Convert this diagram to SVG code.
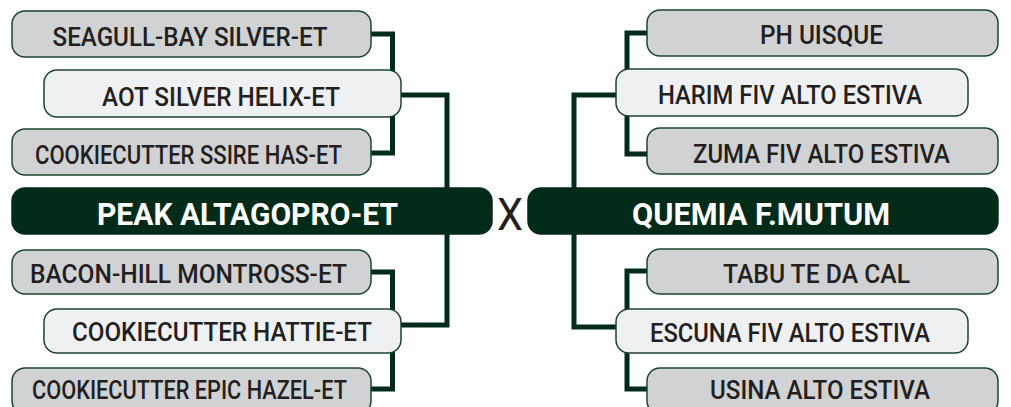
<svg xmlns="http://www.w3.org/2000/svg" width="1011" height="407" viewBox="0 0 1011 407">
<style>
.outer{fill:#d1d2d4;stroke:#1d4433;stroke-width:1.5}
.mid{fill:#eff0f2;stroke:#1d4433;stroke-width:1.5}
.main{fill:#032b1a;stroke:#032b1a;stroke-width:1.5}
.t{font-family:Roboto,"Liberation Sans",sans-serif;font-size:26px;font-weight:500;fill:#231f20;text-anchor:middle}
.tm{font-family:Roboto,"Liberation Sans",sans-serif;font-size:32px;font-weight:700;fill:#ffffff;text-anchor:middle}
.conn{fill:none;stroke:#032b1a;stroke-width:5;stroke-linejoin:miter}
</style>
<rect width="1011" height="407" fill="#ffffff"/>
<g id="connectors">
<path class="conn" d="M371,34 H392.5 V153 H371"/>
<path class="conn" d="M401,95 H447 V325 H401"/>
<path class="conn" d="M371,272 H392.5 V389 H371"/>
<path class="conn" d="M647,33 H627 V154 H647"/>
<path class="conn" d="M616,95 H574 V327 H616"/>
<path class="conn" d="M647,271 H627 V389 H647"/>
</g>
<g id="seagull"><rect class="outer" x="12" y="11" width="359" height="46" rx="13"/><text class="t" x="190" y="46" textLength="275" lengthAdjust="spacingAndGlyphs">SEAGULL-BAY SILVER-ET</text></g>
<g id="aot"><rect class="mid" x="44" y="70" width="357" height="47" rx="13"/><text class="t" x="221" y="106" textLength="238" lengthAdjust="spacingAndGlyphs">AOT SILVER HELIX-ET</text></g>
<g id="ssire"><rect class="outer" x="12" y="129" width="359" height="46" rx="13"/><text class="t" x="188.5" y="164" textLength="307" lengthAdjust="spacingAndGlyphs">COOKIECUTTER SSIRE HAS-ET</text></g>
<g id="peak"><rect class="main" x="12" y="188" width="480" height="46" rx="13"/><text class="tm" x="247.5" y="225" textLength="301" lengthAdjust="spacingAndGlyphs">PEAK ALTAGOPRO-ET</text></g>
<g id="bacon"><rect class="outer" x="12" y="250" width="359" height="44" rx="13"/><text class="t" x="188.5" y="283" textLength="317" lengthAdjust="spacingAndGlyphs">BACON-HILL MONTROSS-ET</text></g>
<g id="hattie"><rect class="mid" x="44" y="309" width="357" height="44" rx="13"/><text class="t" x="222" y="341" textLength="300" lengthAdjust="spacingAndGlyphs">COOKIECUTTER HATTIE-ET</text></g>
<g id="epic"><rect class="outer" x="12" y="368" width="359" height="46" rx="13"/><text class="t" x="189.5" y="399" textLength="315" lengthAdjust="spacingAndGlyphs">COOKIECUTTER EPIC HAZEL-ET</text></g>
<g id="x"><text x="510" y="230" font-family="Roboto,'Liberation Sans',sans-serif" font-size="44" fill="#231f20" text-anchor="middle" textLength="26" lengthAdjust="spacingAndGlyphs">X</text></g>
<g id="phuisque"><rect class="outer" x="647" y="10" width="351" height="46" rx="13"/><text class="t" x="821.5" y="44" textLength="123" lengthAdjust="spacingAndGlyphs">PH UISQUE</text></g>
<g id="harim"><rect class="mid" x="616" y="69" width="352" height="47" rx="13"/><text class="t" x="790" y="104" textLength="264" lengthAdjust="spacingAndGlyphs">HARIM FIV ALTO ESTIVA</text></g>
<g id="zuma"><rect class="outer" x="647" y="128" width="351" height="46" rx="13"/><text class="t" x="821.5" y="163" textLength="257" lengthAdjust="spacingAndGlyphs">ZUMA FIV ALTO ESTIVA</text></g>
<g id="quemia"><rect class="main" x="528" y="188" width="470" height="46" rx="13"/><text class="tm" x="761" y="225" textLength="258" lengthAdjust="spacingAndGlyphs">QUEMIA F.MUTUM</text></g>
<g id="tabu"><rect class="outer" x="647" y="249" width="351" height="45" rx="13"/><text class="t" x="816.5" y="283" textLength="187" lengthAdjust="spacingAndGlyphs">TABU TE DA CAL</text></g>
<g id="escuna"><rect class="mid" x="616" y="309" width="352" height="44" rx="13"/><text class="t" x="790" y="342" textLength="280" lengthAdjust="spacingAndGlyphs">ESCUNA FIV ALTO ESTIVA</text></g>
<g id="usina"><rect class="outer" x="647" y="368" width="351" height="46" rx="13"/><text class="t" x="820" y="399" textLength="220" lengthAdjust="spacingAndGlyphs">USINA ALTO ESTIVA</text></g>
</svg>
